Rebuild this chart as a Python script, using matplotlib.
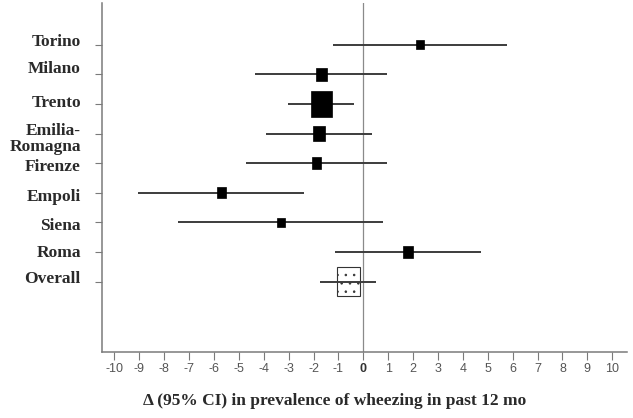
import matplotlib
matplotlib.use("Agg")
import matplotlib.pyplot as plt
from matplotlib.patches import Rectangle
import matplotlib.transforms as mtransforms

# ---- data ----
centres = ["Torino", "Milano", "Trento", "Emilia-\nRomagna", "Firenze",
           "Empoli", "Siena", "Roma", "Overall"]
estimate = [2.28, -1.68, -1.69, -1.78, -1.89, -5.69, -3.31, 1.80, -0.59]
ci_low = [-1.22, -4.35, -3.04, -3.92, -4.71, -9.04, -7.43, -1.14, -1.74]
ci_high = [5.76, 0.94, -0.37, 0.34, 0.94, -2.38, 0.80, 4.73, 0.51]
xticks = list(range(-10, 11))

# ---- style (marker box sizes in pixels, label nudges in points) ----
box_w_px = [8.7, 11, 21, 12.3, 9.3, 8.7, 7.7, 10, 23]
box_h_px = [9.3, 13, 26, 15.7, 12.7, 11, 9.3, 12, 29]
label_dy_pt = [2, 4, 1, -4, -2.5, -3, -2.5, -0.5, 1.5]

plt.rcParams["hatch.color"] = "#8a8a8a"
plt.rcParams["hatch.linewidth"] = 0.6

W, H, DPI = 633, 418, 100
fig = plt.figure(figsize=(W / DPI, H / DPI), dpi=DPI)
L, R, B, T = 101.7, 626.7, 351.7, 3.0
ax = fig.add_axes([L / W, (H - B) / H, (R - L) / W, (B - T) / H])

xmin, xmax = -10.51, 10.58
n = len(centres)
ytop, ybot = -1.41, 10.37
ax.set_xlim(xmin, xmax)
ax.set_ylim(ybot, ytop)

px_per_x = (R - L) / (xmax - xmin)
px_per_y = (B - T) / (ybot - ytop)

ax.axvline(0, color="#8a8a8a", lw=0.9, zorder=1)

for i in range(n):
    ax.plot([ci_low[i], ci_high[i]], [i, i], color="#3c3c3c", lw=1.4,
            solid_capstyle="butt", zorder=4 if i == n - 1 else 2)
    w = box_w_px[i] / px_per_x
    h = box_h_px[i] / px_per_y
    if i == n - 1:
        rect = Rectangle((estimate[i] - w / 2, i - h / 2), w, h,
                         facecolor="white", edgecolor="#333333", lw=0.8,
                         hatch="..", zorder=3)
    else:
        rect = Rectangle((estimate[i] - w / 2, i - h / 2), w, h,
                         facecolor="black", edgecolor="black", lw=0.5,
                         zorder=3)
    ax.add_patch(rect)

for s in ["top", "right"]:
    ax.spines[s].set_visible(False)
for s in ["left", "bottom"]:
    ax.spines[s].set_color("#7a7a7a")
    ax.spines[s].set_linewidth(1.1)

ax.set_xticks(xticks)
ax.set_xticklabels([str(t) for t in xticks], fontsize=9,
                   family="Liberation Sans", color="#555555")
for lab, t in zip(ax.get_xticklabels(), xticks):
    if t == 0:
        lab.set_fontweight("bold")
        lab.set_color("#333333")
ax.tick_params(axis="x", direction="out", length=5.5, width=0.8,
               color="#7a7a7a", pad=2.5)

ax.set_yticks(range(n))
ax.set_yticklabels([""] * n)
ax.tick_params(axis="y", direction="out", length=5, width=0.8,
               color="#7a7a7a")

for i, name in enumerate(centres):
    off = mtransforms.offset_copy(ax.get_yaxis_transform(), fig=fig,
                                  x=-15, y=label_dy_pt[i], units="points")
    ax.text(0, i, name, transform=off, ha="right", va="center",
            multialignment="right", family="Liberation Serif",
            fontweight="bold", fontsize=12.5, color="#2a2a2a",
            linespacing=1.0)

fig.text(335 / W, 1 - 401 / H,
         "\u0394 (95% CI) in prevalence of wheezing in past 12 mo",
         ha="center", va="center", family="Liberation Serif",
         fontweight="bold", fontsize=12.5, color="#2a2a2a")

fig.savefig("out.png", dpi=DPI)
